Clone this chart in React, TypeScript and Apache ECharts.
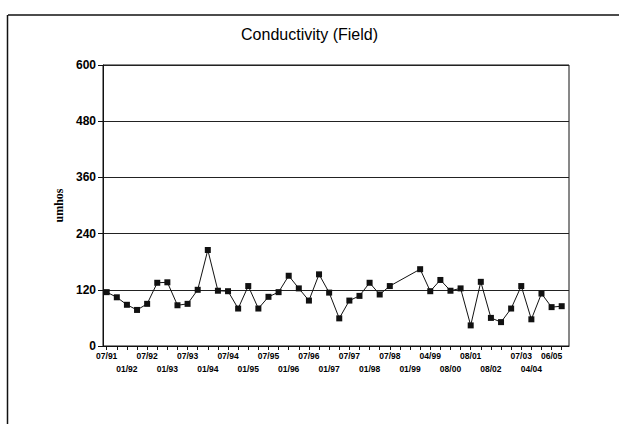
import React, { useEffect, useRef } from "react";
import * as echarts from "echarts";

const titleText = "Conductivity (Field)";
const yAxisName = "umhos";
const yTicks = [0, 120, 240, 360, 480, 600];

// One entry per sample (tick); empty string = tick without label
const xLabels = [
  "07/91", "", "01/92", "", "07/92", "", "01/93", "", "07/93", "",
  "01/94", "", "07/94", "", "01/95", "", "07/95", "", "01/96", "",
  "07/96", "", "01/97", "", "07/97", "", "01/98", "", "07/98", "",
  "01/99", "", "04/99", "", "08/00", "", "08/01", "", "08/02", "",
  "", "07/03", "04/04", "", "06/05", "",
];

const conductivity: (number | null)[] = [
  115, 104, 88, 77, 90, 135, 136, 87, 90, 120,
  205, 118, 117, 80, 128, 80, 105, 115, 150, 123,
  97, 153, 114, 59, 97, 107, 135, 110, 128, null,
  null, 164, 117, 141, 118, 123, 44, 137, 60, 51,
  80, 128, 57, 112, 83, 85,
];

export default function App() {
  const ref = useRef<HTMLDivElement>(null);
  useEffect(() => {
    if (!ref.current) return;
    const chart = echarts.init(ref.current, null, { renderer: "svg" });
    const labelOrder: Record<number, number> = {};
    let k = 0;
    xLabels.forEach((l, i) => {
      if (l) {
        labelOrder[i] = k;
        k++;
      }
    });
    chart.setOption({
      animation: false,
      backgroundColor: "#fff",
      title: {
        text: titleText,
        left: "center",
        top: 21,
        textStyle: {
          fontFamily: "Liberation Sans, Arial, sans-serif",
          fontSize: 16,
          fontWeight: "normal",
          color: "#000",
        },
      },
      graphic: [
        { type: "line", shape: { x1: 8, y1: 15, x2: 619, y2: 15 }, style: { stroke: "#111", lineWidth: 1.5 } },
        { type: "line", shape: { x1: 7.5, y1: 15, x2: 7.5, y2: 424 }, style: { stroke: "#111", lineWidth: 1.5 } },
      ],
      grid: [
        {
          left: 106.7,
          right: 57.3,
          top: 65,
          bottom: 78,
        },
        {
          left: 103,
          right: 50,
          top: 65,
          bottom: 78,
          show: true,
          borderColor: "#111",
          borderWidth: 1,
        },
      ],
      xAxis: [
        {
          type: "category",
          gridIndex: 0,
          data: xLabels,
          boundaryGap: false,
          axisLine: { show: false },
          axisTick: {
            show: true,
            interval: 0,
            length: 4,
            lineStyle: { color: "#111" },
          },
          axisLabel: {
            interval: 0,
            margin: 3,
            fontFamily: "Liberation Sans, Arial, sans-serif",
            fontSize: 8.5,
            fontWeight: "bold",
            color: "#000",
            lineHeight: 13,
            formatter: (v: string, i: number) => {
              if (!v) return "";
              return labelOrder[i] % 2 === 1 ? "\n" + v : v;
            },
          },
          splitLine: { show: false },
        },
        {
          type: "value",
          gridIndex: 1,
          min: 0,
          max: 1,
          axisLine: { show: true, lineStyle: { color: "#111" } },
          axisTick: { show: false },
          axisLabel: { show: false },
          splitLine: { show: false },
        },
      ],
      yAxis: [
        {
          type: "value",
          gridIndex: 0,
          min: 0,
          max: 600,
          interval: 120,
          show: false,
        },
        {
          type: "value",
          gridIndex: 1,
          min: yTicks[0],
          max: yTicks[yTicks.length - 1],
          interval: 120,
          name: yAxisName,
          nameLocation: "middle",
          nameGap: 38,
          nameTextStyle: {
            fontFamily: "Liberation Serif, Times New Roman, serif",
            fontSize: 12,
            fontWeight: "bold",
            color: "#000",
          },
          axisLine: { show: true, lineStyle: { color: "#111" } },
          axisTick: { show: true, length: 5, lineStyle: { color: "#111" } },
          axisLabel: {
            margin: 7,
            fontFamily: "Liberation Sans, Arial, sans-serif",
            fontSize: 12,
            fontWeight: "bold",
            color: "#000",
          },
          splitLine: { show: true, lineStyle: { color: "#222", width: 1 } },
        },
      ],
      series: [
        {
          type: "line",
          xAxisIndex: 0,
          yAxisIndex: 0,
          data: conductivity,
          connectNulls: true,
          symbol: "rect",
          symbolSize: 6,
          lineStyle: { color: "#111", width: 1 },
          itemStyle: { color: "#111" },
        },
      ],
    });
    return () => chart.dispose();
  }, []);
  return (
    <div
      ref={ref}
      style={{ position: "fixed", left: 0, top: 0, width: 619, height: 424 }}
    />
  );
}
